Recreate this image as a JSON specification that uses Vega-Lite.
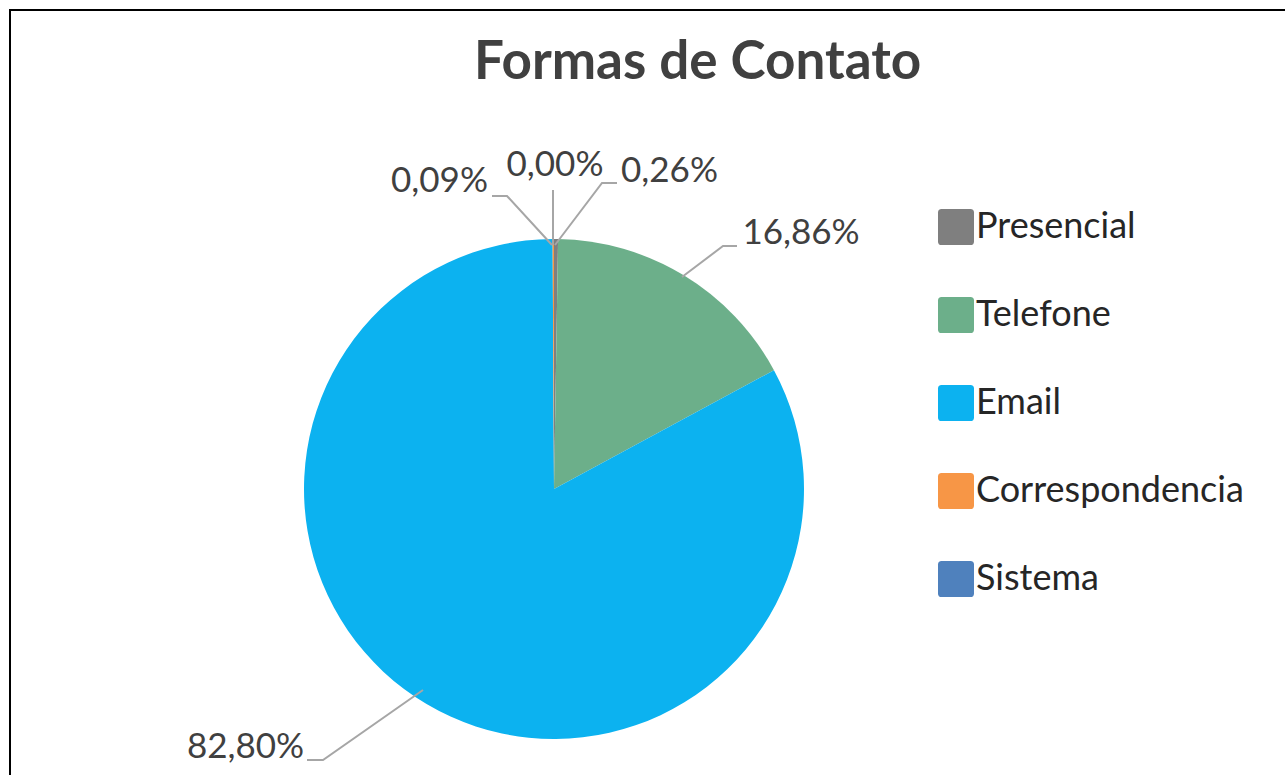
{
  "$schema": "https://vega.github.io/schema/vega-lite/v6.json",
  "width": 1285,
  "height": 775,
  "autosize": {"type": "none"},
  "padding": {"left": 10, "top": 10, "right": 0, "bottom": 0},
  "background": "white",
  "title": {
    "text": "Formas de Contato",
    "anchor": "middle",
    "frame": "group",
    "orient": "top",
    "offset": 0,
    "dx": 45,
    "dy": 122,
    "baseline": "alphabetic",
    "font": "Lato",
    "fontSize": 53,
    "fontWeight": "bold",
    "color": "#404040"
  },
  "config": {
    "view": {"stroke": "#000000", "strokeWidth": 2},
    "font": "Lato"
  },
  "datasets": {
    "formas": [
      {"forma": "Presencial", "pct": 0.26, "ordem": 1},
      {"forma": "Telefone", "pct": 16.86, "ordem": 2},
      {"forma": "Email", "pct": 82.80, "ordem": 3},
      {"forma": "Correspondencia", "pct": 0.09, "ordem": 4},
      {"forma": "Sistema", "pct": 0.00, "ordem": 5}
    ],
    "rotulos": [
      {"forma": "Correspondencia", "rotulo": "0,09%", "u": -0.458, "v": 1.232},
      {"forma": "Sistema", "rotulo": "0,00%", "u": 0.004, "v": 1.298},
      {"forma": "Presencial", "rotulo": "0,26%", "u": 0.462, "v": 1.274},
      {"forma": "Telefone", "rotulo": "16,86%", "u": 0.988, "v": 1.024},
      {"forma": "Email", "rotulo": "82,80%", "u": -1.234, "v": -1.03}
    ],
    "guias": [
      {"forma": "Correspondencia", "seq": 1, "u": -0.248, "v": 1.172},
      {"forma": "Correspondencia", "seq": 2, "u": -0.188, "v": 1.172},
      {"forma": "Correspondencia", "seq": 3, "u": -0.008, "v": 0.976},
      {"forma": "Sistema", "seq": 1, "u": -0.004, "v": 1.196},
      {"forma": "Sistema", "seq": 2, "u": -0.004, "v": 0.976},
      {"forma": "Presencial", "seq": 1, "u": 0.252, "v": 1.224},
      {"forma": "Presencial", "seq": 2, "u": 0.192, "v": 1.224},
      {"forma": "Presencial", "seq": 3, "u": 0.004, "v": 0.976},
      {"forma": "Telefone", "seq": 1, "u": 0.732, "v": 0.972},
      {"forma": "Telefone", "seq": 2, "u": 0.676, "v": 0.972},
      {"forma": "Telefone", "seq": 3, "u": 0.512, "v": 0.848},
      {"forma": "Email", "seq": 1, "u": -0.988, "v": -1.084},
      {"forma": "Email", "seq": 2, "u": -0.924, "v": -1.084},
      {"forma": "Email", "seq": 3, "u": -0.524, "v": -0.804}
    ]
  },
  "layer": [
    {
      "data": {"name": "formas"},
      "mark": {"type": "arc", "outerRadius": 250, "stroke": null},
      "encoding": {
        "x": {"datum": 0, "type": "quantitative", "scale": {"domain": [-2.176, 2.964], "nice": false, "zero": false}, "axis": null},
        "y": {"datum": 0, "type": "quantitative", "scale": {"domain": [-1.184, 1.916], "nice": false, "zero": false}, "axis": null},
        "theta": {"field": "pct", "type": "quantitative", "stack": true},
        "order": {"field": "ordem", "type": "quantitative"},
        "color": {
          "field": "forma",
          "type": "nominal",
          "sort": null,
          "scale": {
            "domain": ["Presencial", "Telefone", "Email", "Correspondencia", "Sistema"],
            "range": ["#7f7f7f", "#6caf8a", "#0cb2f0", "#f79646", "#4f81bd"]
          },
          "legend": {
            "title": null,
            "orient": "none",
            "legendX": 928,
            "legendY": 199,
            "padding": 0,
            "direction": "vertical",
            "symbolType": "M-0.8,-1H0.8Q1,-1,1,-0.8V0.8Q1,1,0.8,1H-0.8Q-1,1,-1,0.8V-0.8Q-1,-1,-0.8,-1Z",
            "symbolSize": 1296,
            "symbolStrokeWidth": 0,
            "symbolOpacity": 1,
            "labelFont": "Lato",
            "labelFontSize": 36,
            "labelColor": "#262626",
            "labelOffset": 2,
            "labelLimit": 400,
            "rowPadding": 52
          }
        }
      }
    },
    {
      "data": {"name": "guias"},
      "mark": {"type": "line", "color": "#a6a6a6", "strokeWidth": 2},
      "encoding": {
        "x": {"field": "u", "type": "quantitative", "scale": {"domain": [-2.176, 2.964], "nice": false, "zero": false}, "axis": null},
        "y": {"field": "v", "type": "quantitative", "scale": {"domain": [-1.184, 1.916], "nice": false, "zero": false}, "axis": null},
        "detail": {"field": "forma"},
        "order": {"field": "seq", "type": "quantitative"}
      }
    },
    {
      "data": {"name": "rotulos"},
      "mark": {"type": "text", "font": "Lato", "fontSize": 35, "color": "#404040", "align": "center", "baseline": "middle"},
      "encoding": {
        "x": {"field": "u", "type": "quantitative", "scale": {"domain": [-2.176, 2.964], "nice": false, "zero": false}, "axis": null},
        "y": {"field": "v", "type": "quantitative", "scale": {"domain": [-1.184, 1.916], "nice": false, "zero": false}, "axis": null},
        "text": {"field": "rotulo"}
      }
    }
  ]
}
